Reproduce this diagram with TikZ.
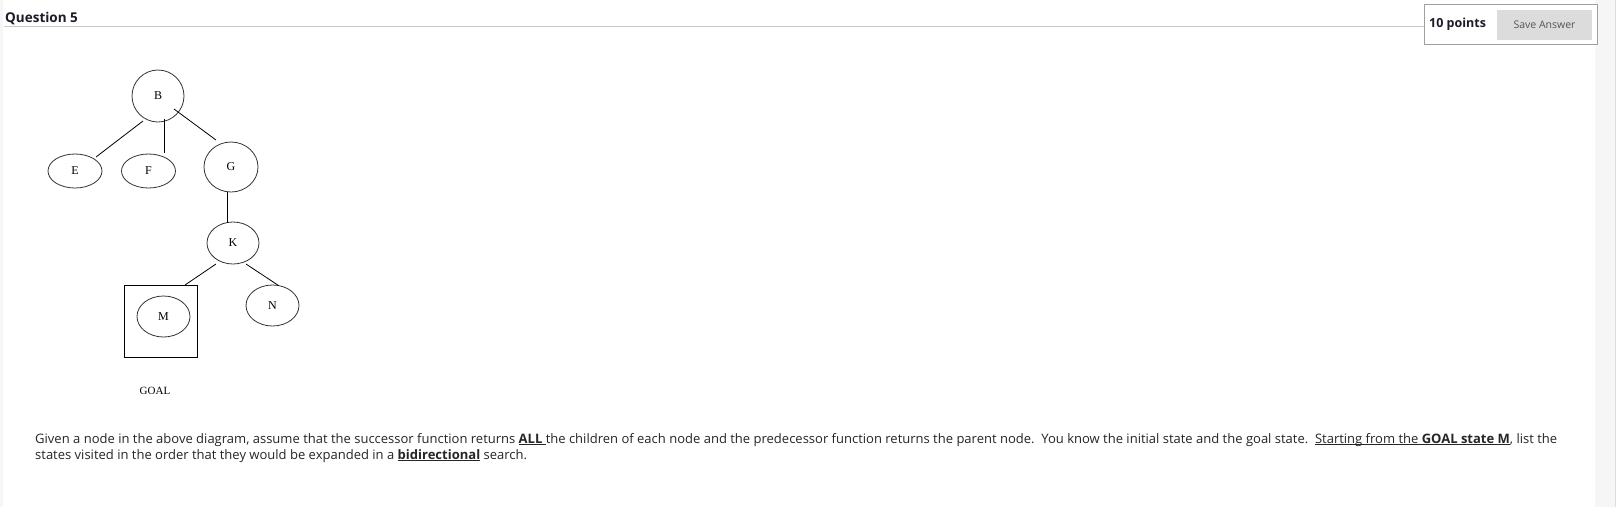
\documentclass[tikz,border=0pt]{standalone}
\usepackage{fontspec}
\setmainfont{Open Sans}
\newfontfamily\diafont{Liberation Serif}
\usetikzlibrary{shapes.geometric,calc}
\definecolor{txt}{HTML}{262626}
\definecolor{hdr}{HTML}{1C1C28}
\definecolor{rule}{HTML}{C8C8C8}
\definecolor{boxline}{HTML}{A0A0A0}
\definecolor{btn}{HTML}{DCDCDC}
\definecolor{btntxt}{HTML}{555555}
\definecolor{side}{HTML}{F6F6F6}
\definecolor{sideline}{HTML}{DDDDDD}
\newcommand\ulbox[1]{\underline{\smash{#1}}}
\newcommand\LineOneText{Given a node in the above diagram, assume that the successor function returns \ulbox{\textbf{ALL} }the children of each node and the predecessor function returns the parent node.\ \ You know the initial state and the goal state.\ \ \ulbox{Starting from the \textbf{GOAL state M}}, list the}
\newcommand\LineTwoText{states visited in the order that they would be expanded in a \ulbox{\textbf{bidirectional}} search.}
\newsavebox\LineOneBox
\newlength\LineOneWd
\begin{document}
\sbox\LineOneBox{\fontsize{10}{12}\selectfont\LineOneText}%
\setlength\LineOneWd{\wd\LineOneBox}%
\pgfmathsetmacro\bodyfs{10*1522/\LineOneWd}%
\begin{tikzpicture}[x=1pt,y=-1pt,
  state/.style={ellipse,draw=black!80,line width=0.8pt,inner sep=0pt,font=\diafont\fontsize{12}{14}\selectfont,text=black},
  edge/.style={draw=black,line width=0.8pt}]
\useasboundingbox (0,0) rectangle (1616,507);
\fill[white] (0,0) rectangle (1616,507);
% side bands
\fill[side] (0,0) rectangle (3,507);
\fill[side] (1595,0) rectangle (1616,507);
\draw[sideline,line width=0.8pt] (1615,0) -- (1615,507);
% header
\node[anchor=base west,inner sep=0pt,text=hdr,font=\fontsize{13.5}{16}\selectfont\bfseries] (q) at (5,22) {Question 5};
\draw[rule,line width=0.8pt] (4,26) -- (1424,26);
\node[draw=boxline,fill=white,line width=1pt,minimum width=173pt,minimum height=40pt,inner sep=0pt] (pbox) at (1510.5,24) {};
\node[fill=btn,minimum width=95pt,minimum height=30pt,inner sep=0pt] (save) at (1544.5,25) {};
\node[text=btntxt,font=\fontsize{10.5}{12}\selectfont,inner sep=0pt] (savet) at (1544.5,25) {Save Answer};
\node[anchor=west,inner sep=0pt,text=hdr,font=\fontsize{12.5}{15}\selectfont\bfseries] (pts) at (1429,24.5) {10 points};
% diagram
\node[state,minimum width=52pt,minimum height=52pt] (B) at (158,96) {B};
\node[state,minimum width=54pt,minimum height=34pt] (E) at (75,171) {E};
\node[state,minimum width=54pt,minimum height=34pt] (F) at (148.5,171) {F};
\node[state,minimum width=54pt,minimum height=50pt] (G) at (231,167) {G};
\node[state,minimum width=52pt,minimum height=42pt] (K) at (233,243) {K};
\node[draw=black,line width=0.8pt,minimum width=73pt,minimum height=72pt,inner sep=0pt] (sq) at (160.5,321) {};
\node[state,minimum width=53pt,minimum height=41pt] (M) at (163.5,316.5) {M};
\node[state,minimum width=53pt,minimum height=41pt] (N) at (272.5,305.5) {N};
\node[font=\diafont\fontsize{11}{13}\selectfont,inner sep=0pt] (goal) at (155,391) {GOAL};
\draw[edge] ($(B)+(-15,25)$) -- ($(E)+(21,-14)$);
\draw[edge] ($(B)+(6,23)$) -- ($(F)+(15.5,-18)$);
\draw[edge] ($(B)+(16,13)$) -- ($(G)+(-15,-27)$);
\draw[edge] ($(G)+(-4,25)$) -- ($(K)+(-6,-20)$);
\draw[edge] ($(K)+(-17,21)$) -- ($(sq)+(24.5,-36)$);
\draw[edge] ($(K)+(13,21)$) -- ($(N)+(6,-20)$);
% body text
\node[anchor=base west,inner sep=0pt,text=txt,font=\fontsize{\bodyfs}{16}\selectfont] (l1) at (35,443) {\LineOneText};
\node[anchor=base west,inner sep=0pt,text=txt,font=\fontsize{\bodyfs}{16}\selectfont] (l2) at (35,459) {\LineTwoText};
\end{tikzpicture}
\end{document}
